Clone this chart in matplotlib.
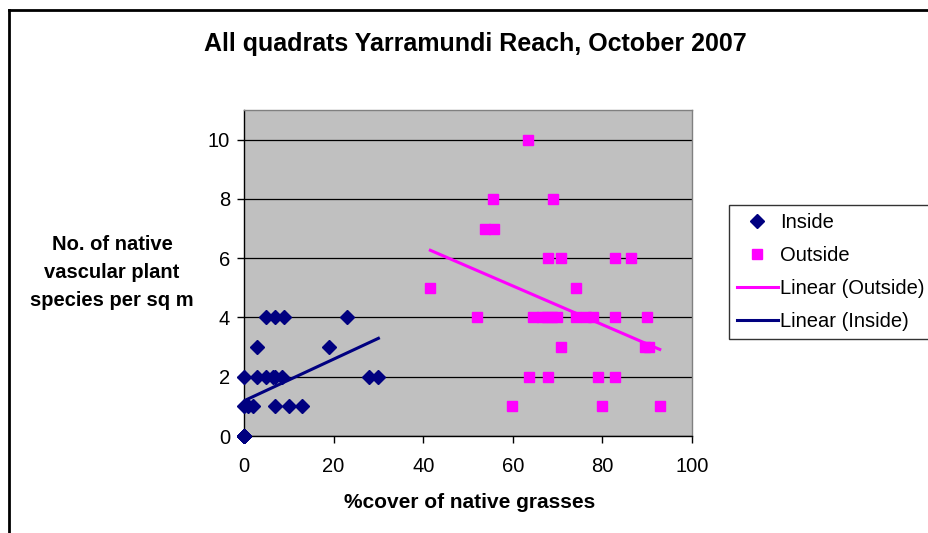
import numpy as np
import matplotlib
matplotlib.use("Agg")
import matplotlib.pyplot as plt
from matplotlib.lines import Line2D

plt.rcParams['font.family'] = ['Liberation Sans', 'DejaVu Sans']

# ---- data ----
inside_x = [5, 7, 9, 23, 3, 19, 0, 3, 5, 6.5, 7, 8.5, 28, 30,
            0, 1, 2, 7, 10, 13, 0, 0, 0, 0, 0, 0]
inside_y = [4, 4, 4, 4, 3, 3, 2, 2, 2, 2, 2, 2, 2, 2,
            1, 1, 1, 1, 1, 1, 0, 0, 0, 0, 0, 0]

outside_x = [63.3, 55.5, 69, 53.7, 55.8, 67.9, 70.8, 82.9, 86.4, 41.6, 74,
             51.9, 64.4, 66.6, 67.7, 68.8, 69.9, 74, 76.3, 77.9, 82.9, 89.9,
             70.8, 89.4, 90.5, 63.7, 67.9, 79, 82.9, 59.8, 80, 92.8]
outside_y = [10, 8, 8, 7, 7, 6, 6, 6, 6, 5, 5,
             4, 4, 4, 4, 4, 4, 4, 4, 4, 4, 4,
             3, 3, 3, 2, 2, 2, 2, 1, 1, 1]

title = "All quadrats Yarramundi Reach, October 2007"
xlabel = "%cover of native grasses"
ylabel = "No. of native\nvascular plant\nspecies per sq m"
x_ticks = [0, 20, 40, 60, 80, 100]
y_ticks = [0, 2, 4, 6, 8, 10]

NAVY = "#000080"
MAGENTA = "#FF00FF"

W, H = 929, 533
fig = plt.figure(figsize=(W / 100, H / 100), dpi=100)
fig.patch.set_facecolor("white")

left, right, top, bottom = 244, 692, 110, 436
ax = fig.add_axes([left / W, 1 - bottom / H, (right - left) / W, (bottom - top) / H])
ax.set_facecolor("#C0C0C0")
ax.set_xlim(0, 100)
ax.set_ylim(0, 11)
ax.set_xticks(x_ticks)
ax.set_yticks(y_ticks)
ax.tick_params(axis='both', labelsize=14.5, length=5, width=1, color="#000000", direction='out')
ax.tick_params(axis='x', pad=10)
ax.tick_params(axis='y', pad=5)
ax.yaxis.grid(True, color="#000000", linewidth=0.9)
ax.set_axisbelow(True)
for side in ['top', 'right']:
    ax.spines[side].set_color("#808080")
    ax.spines[side].set_linewidth(1)
for side in ['left', 'bottom']:
    ax.spines[side].set_color("#000000")
    ax.spines[side].set_linewidth(1)

# scatter
ax.plot(inside_x, inside_y, linestyle='none', marker='D', ms=6.8, color=NAVY,
        label="Inside", clip_on=False, zorder=4)
ax.plot(outside_x, outside_y, linestyle='none', marker='s', ms=7, color=MAGENTA,
        label="Outside", clip_on=False, zorder=4)

# linear trend lines
xo = np.array(outside_x); yo = np.array(outside_y)
po = np.polyfit(xo, yo, 1)
xs_o = np.array([xo.min(), xo.max()])
ax.plot(xs_o, np.polyval(po, xs_o), color=MAGENTA, lw=2.2, label="Linear (Outside)", zorder=5)

xi = np.array(inside_x); yi = np.array(inside_y)
pi = np.polyfit(xi, yi, 1)
xs_i = np.array([xi.min(), xi.max()])
ax.plot(xs_i, np.polyval(pi, xs_i), color=NAVY, lw=2.2, label="Linear (Inside)", zorder=5)

# titles
fig.text(475 / W, 1 - 44 / H, title, ha='center', va='center',
         fontsize=18, fontweight='bold')
fig.text(470 / W, 1 - 503 / H, xlabel, ha='center', va='center', fontsize=15, fontweight='bold')
fig.text(112 / W, 1 - 273 / H, ylabel, ha='center', va='center', fontsize=14.5,
         fontweight='bold', linespacing=1.6)

# legend
leg = fig.legend(loc='upper left', bbox_to_anchor=(729 / W, 1 - 205 / H), fontsize=14.5,
                 frameon=True, fancybox=False, shadow=False, borderpad=0.38,
                 handlelength=2.05, handletextpad=0.1, labelspacing=0.7,
                 borderaxespad=0)
leg.get_frame().set_edgecolor("#000000")
leg.get_frame().set_linewidth(1)

# outer chart border (top and left visible)
fig.add_artist(Line2D([9 / W, 1.0], [1 - 9.5 / H, 1 - 9.5 / H], color="#000000", lw=2,
                      transform=fig.transFigure))
fig.add_artist(Line2D([9 / W, 9 / W], [1 - 9.5 / H, 0.0], color="#000000", lw=2,
                      transform=fig.transFigure))

fig.savefig("out.png", dpi=100, facecolor="white")
